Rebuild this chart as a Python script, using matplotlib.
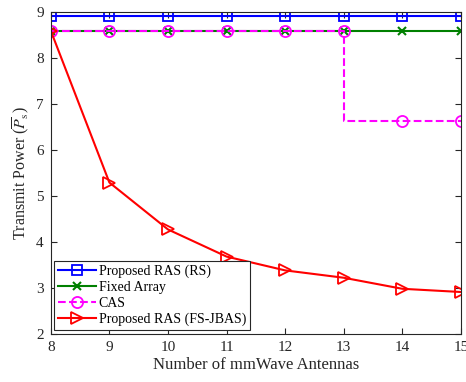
import matplotlib
matplotlib.use("Agg")
import matplotlib.pyplot as plt

plt.rcParams['font.family'] = ['Liberation Serif', 'DejaVu Serif']
plt.rcParams['mathtext.fontset'] = 'stix'

antennas = [8, 9, 10, 11, 12, 13, 14, 15]
ras_rs = [8.92, 8.92, 8.92, 8.92, 8.92, 8.92, 8.92, 8.92]
fixed_array = [8.59, 8.59, 8.59, 8.59, 8.59, 8.59, 8.59, 8.59]
cas = [8.59, 8.59, 8.59, 8.59, 8.59, 8.59, 6.63, 6.63]
ras_fsjbas = [8.59, 5.29, 4.27, 3.68, 3.38, 3.22, 2.98, 2.91]

fig = plt.figure(figsize=(4.66, 3.82), dpi=100)
ax = fig.add_axes([0.109, 0.126, 0.88, 0.843])

ax.plot(antennas, ras_rs, color='blue', lw=1.5, marker='s', ms=6.5,
        mfc='none', mew=1.3, label='Proposed RAS (RS)')
ax.plot(antennas, fixed_array, color='green', lw=1.5, marker='x', ms=6,
        mew=1.5, label='Fixed Array')
ax.plot(antennas, cas, color='magenta', lw=1.5, ls='--', marker='o', ms=8,
        mfc='none', mew=1.3, drawstyle='steps-pre', label='CAS')
ax.plot(antennas, ras_fsjbas, color='red', lw=1.5, marker='>', ms=9,
        mfc='none', mew=1.3, label='Proposed RAS (FS-JBAS)')

ax.set_xlim(8, 15)
ax.set_ylim(2, 9)
ax.set_xticks(antennas)
ax.set_yticks(range(2, 10))
ax.tick_params(direction='in', length=4, top=True, right=True,
               labelsize=11, colors='0.15', pad=5)
for s in ax.spines.values():
    s.set_color('0.15')
    s.set_linewidth(0.8)

ax.set_xlabel('Number of mmWave Antennas', fontsize=12, color='0.15', labelpad=2)
ax.set_ylabel(r'Transmit Power ($\overline{P}_{\rm s}$)', fontsize=11.5,
              color='0.15', labelpad=3)

leg = ax.legend(loc='lower left', fontsize=10, handlelength=2.7,
                fancybox=False, edgecolor='0.15', framealpha=1,
                borderaxespad=0.25, borderpad=0.3, labelspacing=0.2,
                handletextpad=0.2)
leg.get_frame().set_linewidth(0.8)

fig.savefig('out.png', dpi=100)
